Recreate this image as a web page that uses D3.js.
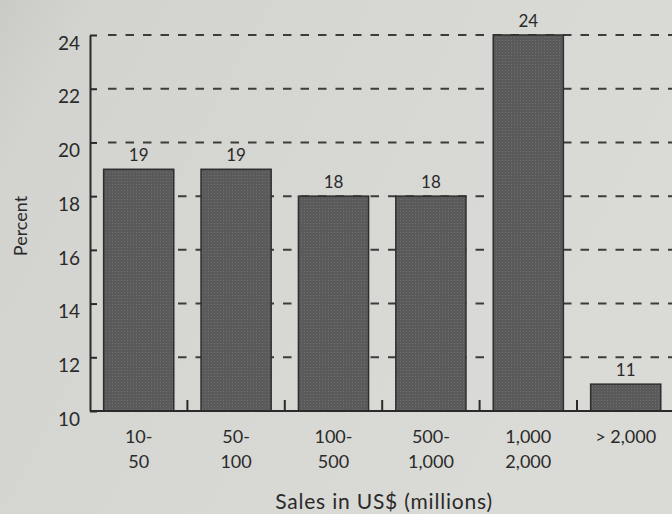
<!DOCTYPE html>
<html>
<head>
<meta charset="utf-8">
<script src="https://cdn.jsdelivr.net/npm/d3@7"></script>
<style>
  html, body { margin: 0; padding: 0; background: #d6d6d2; }
  svg { display: block; }
  text { font-family: Lato, "Open Sans", sans-serif; fill: #2a2a2a; }
</style>
</head>
<body>
<svg id="chart" width="672" height="514"></svg>
<script>
// Share of companies by annual sales band
const categories = ["10-\n50", "50-\n100", "100-\n500", "500-\n1,000", "1,000\n2,000", "> 2,000"];
const percents = [19, 19, 18, 18, 24, 11];
const yTicks = [10, 12, 14, 16, 18, 20, 22, 24];

const svg = d3.select("#chart");
const W = 672, H = 514;
const plotLeft = 90, plotRight = 674.4, plotTop = 35, plotBottom = 411;
const ink = "#2a2a2a";

// paper-like backdrop
const defs = svg.append("defs");
const bg = defs.append("linearGradient").attr("id", "paper")
  .attr("x1", "0").attr("y1", "0").attr("x2", "1").attr("y2", "0.4");
bg.append("stop").attr("offset", "0").attr("stop-color", "#cacac6");
bg.append("stop").attr("offset", "0.12").attr("stop-color", "#d3d3cf");
bg.append("stop").attr("offset", "0.7").attr("stop-color", "#d8d8d4");
bg.append("stop").attr("offset", "1").attr("stop-color", "#dadad6");
svg.append("rect").attr("width", W).attr("height", H).attr("fill", "url(#paper)");

// stippled bar fill
const pat = defs.append("pattern").attr("id", "stipple")
  .attr("width", 3).attr("height", 3).attr("patternUnits", "userSpaceOnUse");
pat.append("rect").attr("width", 3).attr("height", 3).attr("fill", "#5a5a5a");
pat.append("rect").attr("x", 1).attr("y", 1).attr("width", 1).attr("height", 1).attr("fill", "#6e6e6e");

const x = d3.scaleBand().domain(categories).range([plotLeft, plotRight])
  .paddingInner(0.28).paddingOuter(0.14);
const y = d3.scaleLinear().domain([10, 24]).range([plotBottom, plotTop]);

// dashed gridlines
svg.append("g").selectAll("line").data(yTicks.filter(d => d > 10)).join("line")
  .attr("x1", plotLeft + 18).attr("x2", W)
  .attr("y1", d => y(d)).attr("y2", d => y(d))
  .attr("stroke", "#3c3c3c").attr("stroke-width", 2)
  .attr("stroke-dasharray", "8.5,9");

// y axis: inward ticks, labels sitting just below each tick
const yAxis = d3.axisLeft(y).tickValues(yTicks).tickSizeInner(-7).tickSizeOuter(0).tickPadding(10);
const gy = svg.append("g").attr("transform", `translate(${plotLeft},0)`).call(yAxis);
gy.select(".domain").attr("stroke", ink).attr("stroke-width", 2);
gy.selectAll(".tick line").attr("stroke", ink).attr("stroke-width", 2);
gy.selectAll(".tick text").attr("font-size", 19).attr("dy", "0.75em")
  .attr("font-family", "Lato, sans-serif").attr("fill", ink);

// bars
svg.append("g").selectAll("rect").data(percents).join("rect")
  .attr("x", (d, i) => x(categories[i]))
  .attr("y", d => y(d))
  .attr("width", x.bandwidth())
  .attr("height", d => y(10) - y(d))
  .attr("fill", "url(#stipple)")
  .attr("stroke", "#2e2e2e").attr("stroke-width", 1.5);

// value labels
svg.append("g").selectAll("text").data(percents).join("text")
  .attr("x", (d, i) => x(categories[i]) + x.bandwidth() / 2)
  .attr("y", d => y(d) - 8)
  .attr("text-anchor", "middle").attr("font-size", 17)
  .text(d => d);

// x axis baseline with upward ticks between bands
svg.append("line").attr("x1", plotLeft).attr("x2", W).attr("y1", plotBottom).attr("y2", plotBottom)
  .attr("stroke", ink).attr("stroke-width", 2);
svg.append("g").selectAll("line").data(categories.slice(1)).join("line")
  .attr("x1", d => x(d) - x.step() * x.paddingInner() / 2)
  .attr("x2", d => x(d) - x.step() * x.paddingInner() / 2)
  .attr("y1", plotBottom).attr("y2", plotBottom - 11)
  .attr("stroke", ink).attr("stroke-width", 2);

// category labels (two lines)
const cl = svg.append("g").selectAll("text").data(categories).join("text")
  .attr("x", d => x(d) + x.bandwidth() / 2)
  .attr("y", 443)
  .attr("text-anchor", "middle").attr("font-size", 18);
cl.each(function(d) {
  const lines = d.split("\n");
  const t = d3.select(this);
  lines.forEach((s, k) => {
    t.append("tspan").attr("x", t.attr("x")).attr("dy", k === 0 ? 0 : 25).text(s);
  });
});

// axis titles
svg.append("text").attr("x", 384).attr("y", 509).attr("text-anchor", "middle")
  .attr("font-size", 21).attr("letter-spacing", 0.8).text("Sales in US$ (millions)");
svg.append("text").attr("transform", "translate(27,226) rotate(-90)")
  .attr("text-anchor", "middle").attr("font-size", 18).text("Percent");
</script>
</body>
</html>
